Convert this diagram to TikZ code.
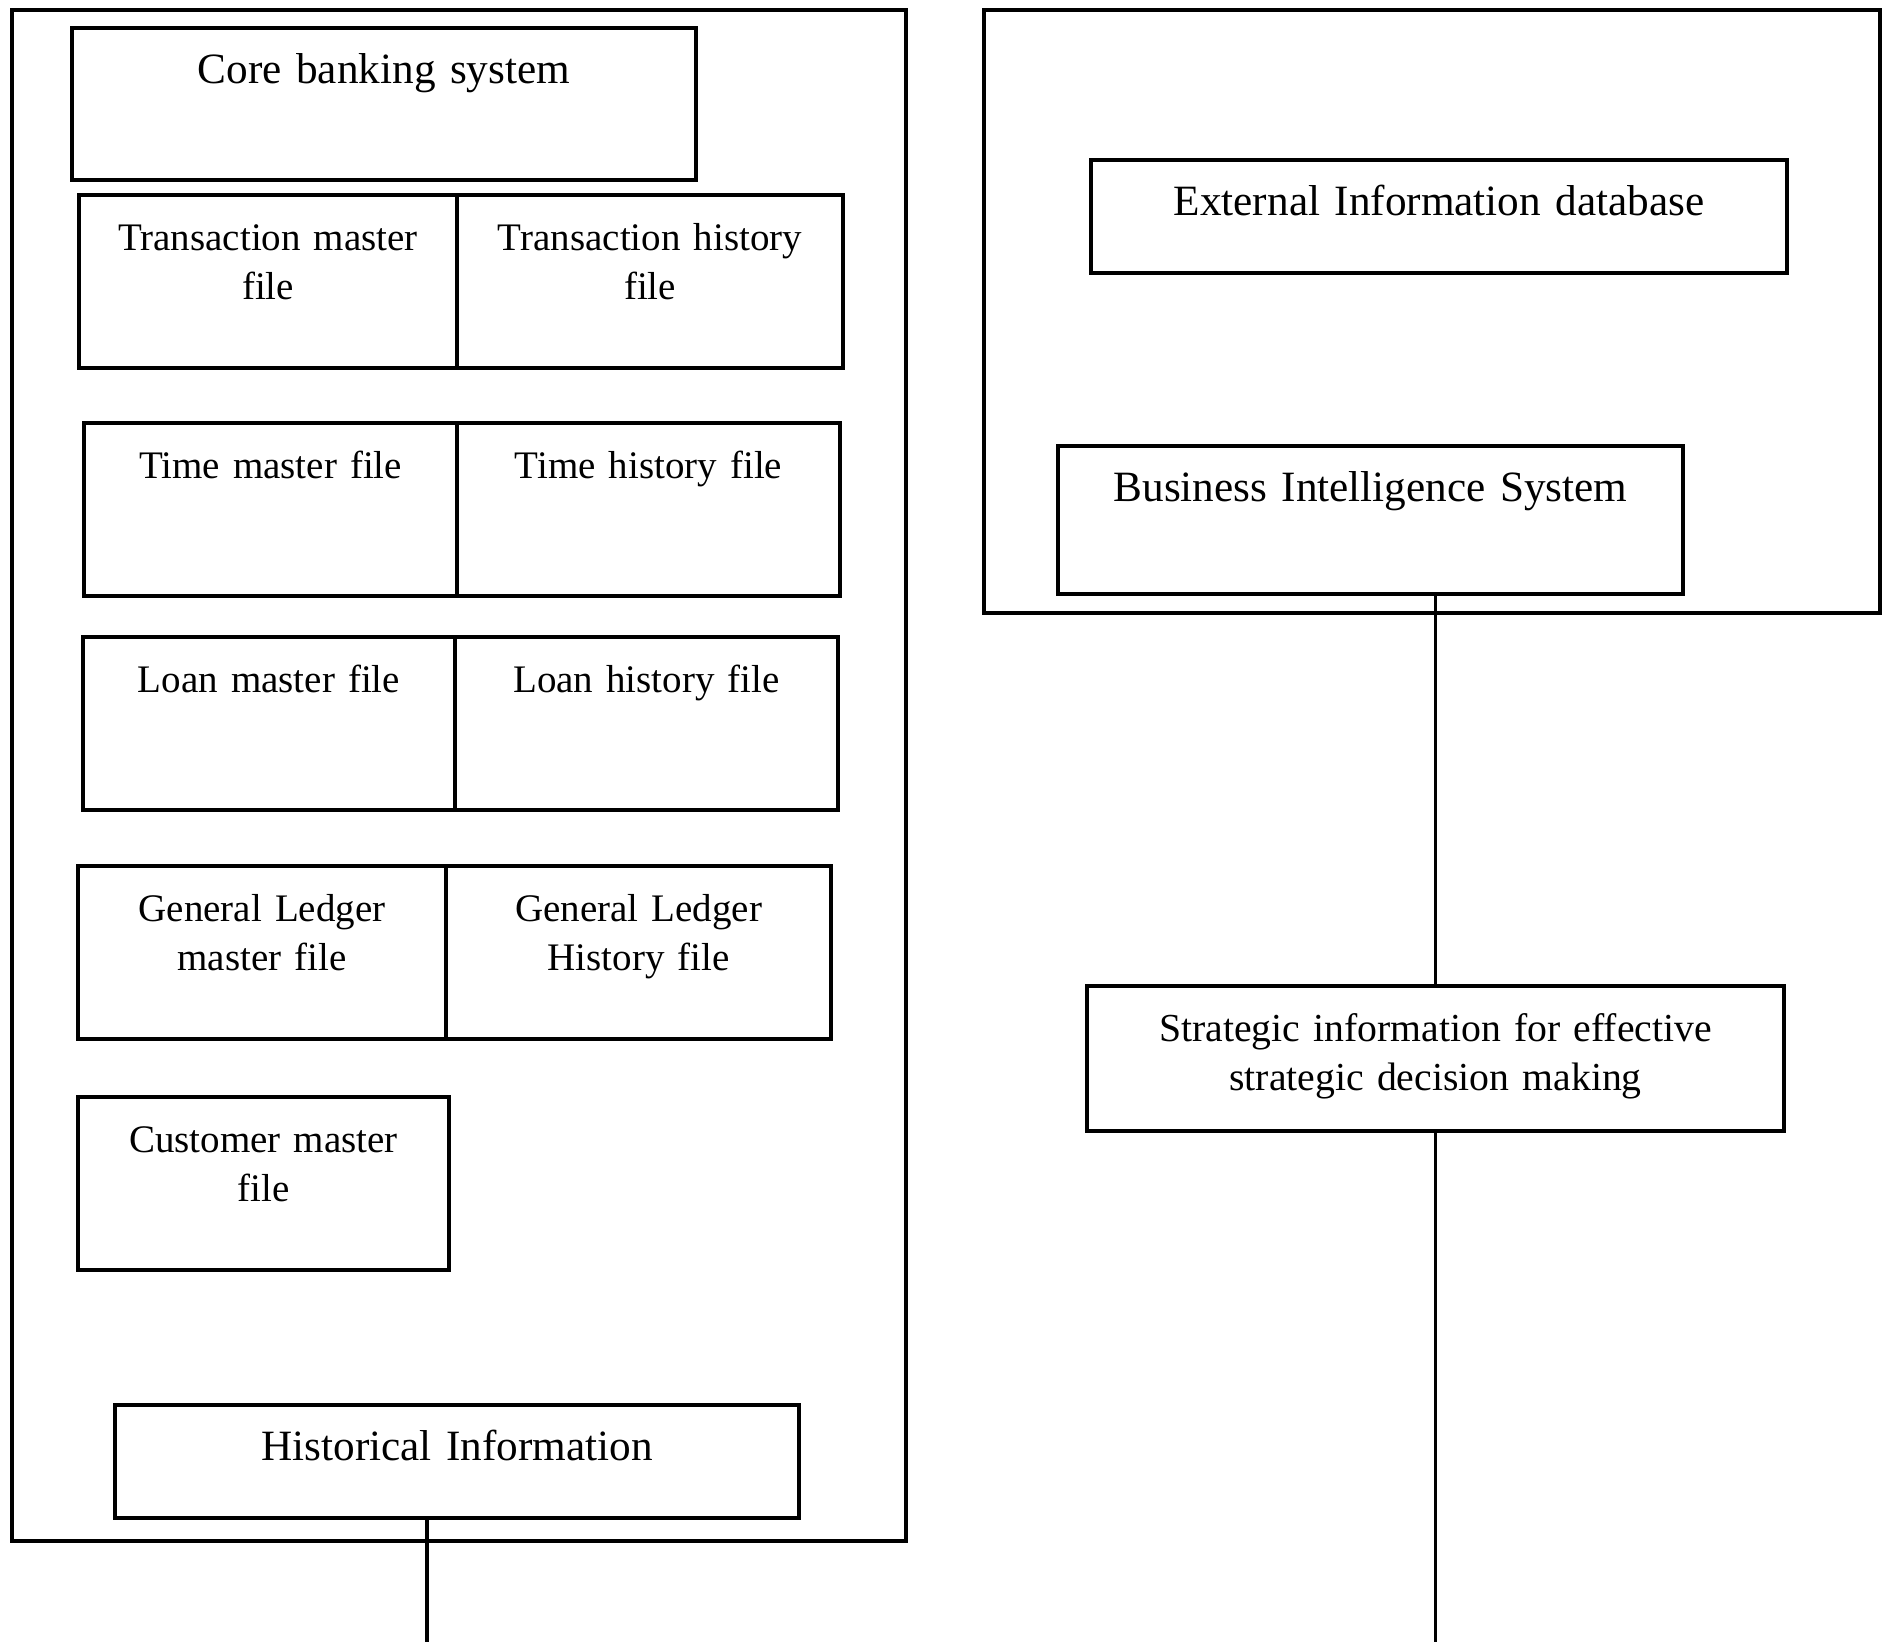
\documentclass[tikz,border=0pt]{standalone}
\usepackage{fontspec}
\setmainfont{Liberation Serif}
\usetikzlibrary{positioning}
\tikzstyle{block} = [rectangle, draw, line width = 0.9pt, align = center, inner sep = 0pt, outer sep = 0pt, text height = 0.55cm]
\tikzstyle{titleblock} = [block, font = \fontsize{12.3}{15}\selectfont]
\tikzstyle{fileblock} = [block, font = \fontsize{11.1}{14.2}\selectfont, text depth = 1.18cm]
\tikzstyle{frameblock} = [rectangle, draw, line width = 1.2pt, inner sep = 0pt, outer sep = 0pt, anchor = north west]
\begin{document}
\begin{tikzpicture}
\useasboundingbox (0,0) rectangle (18.86,-16.42);
% left side: banking files
\node [frameblock, minimum width = 8.94cm, minimum height = 15.31cm] (bank) at (0.12,-0.10) {};
\node [titleblock, anchor = north west, text width = 6.24cm, text depth = 0.97cm] (core) at (0.72,-0.28) {Core banking system};
\node [fileblock, anchor = north west, text width = 3.78cm] (transmaster) at (0.79,-1.95) {Transaction master\\file};
\node [fileblock, right = 0pt of transmaster, text width = 3.86cm] (transhistory) {Transaction history\\file};
\node [fileblock, anchor = north west, text width = 3.73cm] (timemaster) at (0.84,-4.23) {Time master file};
\node [fileblock, right = 0pt of timemaster, text width = 3.83cm] (timehistory) {Time history file};
\node [fileblock, anchor = north west, text width = 3.72cm] (loanmaster) at (0.83,-6.37) {Loan master file};
\node [fileblock, right = 0pt of loanmaster, text width = 3.83cm] (loanhistory) {Loan history file};
\node [fileblock, anchor = north west, text width = 3.68cm] (glmaster) at (0.78,-8.66) {General Ledger\\master file};
\node [fileblock, right = 0pt of glmaster, text width = 3.85cm] (glhistory) {General Ledger\\History file};
\node [fileblock, anchor = north west, text width = 3.71cm] (custmaster) at (0.78,-10.97) {Customer master\\file};
\node [titleblock, anchor = north west, text width = 6.84cm, text depth = 0.58cm] (histinfo) at (1.15,-14.05) {Historical Information};
% right side: business intelligence
\node [frameblock, minimum width = 8.96cm, minimum height = 6.03cm] (bi) at (9.84,-0.10) {};
\node [titleblock, anchor = north west, text width = 6.96cm, text depth = 0.58cm] (extdb) at (10.91,-1.60) {External Information database};
\node [titleblock, anchor = north west, text width = 6.25cm, text depth = 0.93cm] (bisystem) at (10.58,-4.46) {Business Intelligence System};
\node [block, font = \fontsize{11.3}{14.2}\selectfont, anchor = north west, text width = 6.97cm, text depth = 0.90cm] (strategic) at (10.87,-9.86) {Strategic information for effective\\strategic decision making};
% connectors
\coordinate (histout) at (4.27,-16.42);
\coordinate (stratout) at (strategic.south |- histout);
\draw [line width = 0.9pt] (histout |- histinfo.south) -- (histout);
\draw [line width = 0.9pt] (bisystem.south -| strategic.north) -- (strategic.north);
\draw [line width = 0.9pt] (strategic.south) -- (stratout);
\end{tikzpicture}
\end{document}
